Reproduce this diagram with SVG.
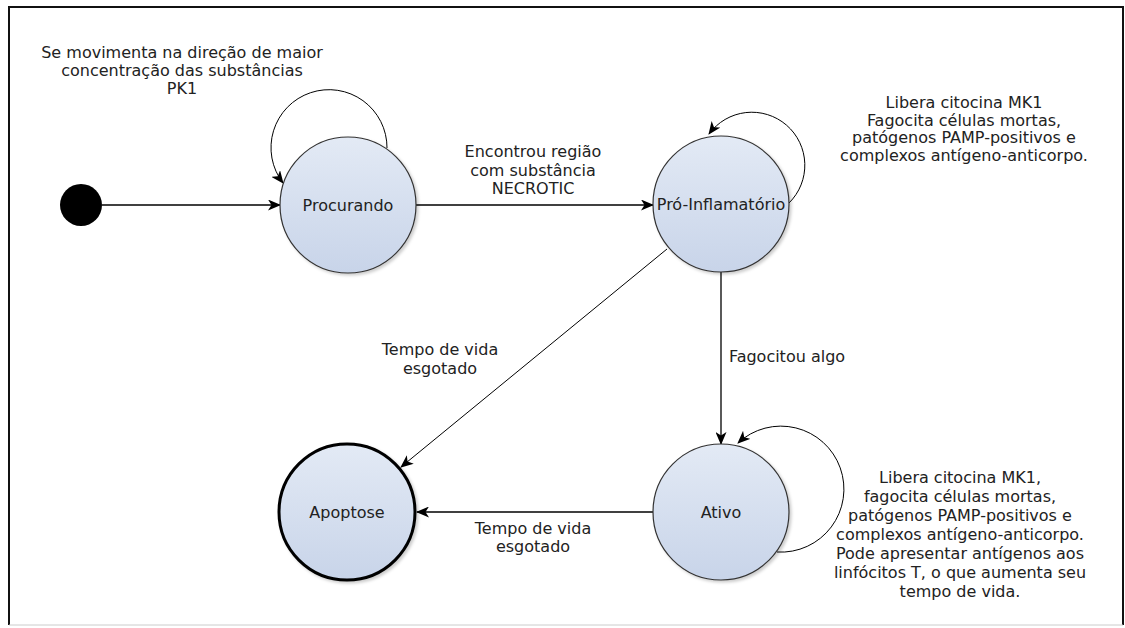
<svg xmlns="http://www.w3.org/2000/svg" width="1125" height="628" viewBox="0 0 1125 628">
  <style>
    .lbl { font-family: "DejaVu Sans", "Liberation Sans", sans-serif; font-size: 16px; fill: #222; text-anchor: middle; }
    .state { fill: url(#stateFill); stroke: #333; stroke-width: 1.2; filter: url(#shade); }
    .final { fill: url(#stateFill); stroke: #000; stroke-width: 3; filter: url(#shade); }
    .edge { fill: none; stroke: #000; stroke-width: 1.3; marker-end: url(#arrow); }
    .thin { stroke-width: 1; }
  </style>
  <defs>
    <linearGradient id="stateFill" x1="0" y1="0" x2="0" y2="1">
      <stop offset="0" stop-color="#e3eaf5"/>
      <stop offset="1" stop-color="#c8d4e9"/>
    </linearGradient>
    <filter id="shade" x="-20%" y="-20%" width="140%" height="140%">
      <feDropShadow dx="2" dy="2" stdDeviation="1.5" flood-color="#000" flood-opacity="0.2"/>
    </filter>
    <marker id="arrow" viewBox="0 0 13 11" refX="12" refY="5.5" markerWidth="13" markerHeight="11" markerUnits="userSpaceOnUse" orient="auto">
      <path d="M0,0 L13,5.5 L0,11 L3.5,5.5 Z" fill="#000"/>
    </marker>
  </defs>

  <!-- frame -->
  <rect x="0" y="0" width="1125" height="628" fill="#fff"/>
  <path d="M9 625 V7 H1123 V625" fill="none" stroke="#111" stroke-width="2"/>
  <line x1="9" y1="625" x2="1123" y2="625" stroke="#ccc" stroke-width="1"/>

  <!-- connectors and their labels -->
  <g id="connectors">
    <line class="edge" x1="102" y1="205" x2="280" y2="205"/>
    <line class="edge" x1="416" y1="205" x2="653" y2="205"/>
    <path class="edge thin" d="M387 148 A58 58 0 1 0 283 183"/>
    <path class="edge thin" d="M789 203 A53 53 0 1 0 709 134"/>
    <line class="edge" x1="721" y1="272" x2="721" y2="444"/>
    <line class="edge thin" x1="667" y1="249" x2="401" y2="467"/>
    <line class="edge" x1="653" y1="512" x2="417" y2="512"/>
    <path class="edge thin" d="M777 552 A63 63 0 1 0 738 443"/>

    <text class="lbl"><tspan x="182" y="58">Se movimenta na direção de maior</tspan><tspan x="182" y="76">concentração das substâncias</tspan><tspan x="182" y="94">PK1</tspan></text>
    <text class="lbl"><tspan x="533" y="157">Encontrou região</tspan><tspan x="533" y="175.5">com substância</tspan><tspan x="533" y="194">NECROTIC</tspan></text>
    <text class="lbl"><tspan x="964" y="108">Libera citocina MK1</tspan><tspan x="964" y="125.5">Fagocita células mortas,</tspan><tspan x="964" y="143">patógenos PAMP-positivos e</tspan><tspan x="964" y="160.5">complexos antígeno-anticorpo.</tspan></text>
    <text class="lbl"><tspan x="440" y="355">Tempo de vida</tspan><tspan x="440" y="374">esgotado</tspan></text>
    <text class="lbl" x="787" y="362">Fagocitou algo</text>
    <text class="lbl"><tspan x="533" y="534">Tempo de vida</tspan><tspan x="533" y="552">esgotado</tspan></text>
    <text class="lbl"><tspan x="960" y="483">Libera citocina MK1,</tspan><tspan x="960" y="502">fagocita células mortas,</tspan><tspan x="960" y="521">patógenos PAMP-positivos e</tspan><tspan x="960" y="540">complexos antígeno-anticorpo.</tspan><tspan x="960" y="559">Pode apresentar antígenos aos</tspan><tspan x="960" y="578">linfócitos T, o que aumenta seu</tspan><tspan x="960" y="597">tempo de vida.</tspan></text>
  </g>

  <!-- states -->
  <g id="start">
    <circle cx="81" cy="205" r="21" fill="#000"/>
  </g>
  <g id="procurando">
    <circle class="state" cx="348" cy="205" r="68"/>
    <text class="lbl" x="348" y="211">Procurando</text>
  </g>
  <g id="pro-inflamatorio">
    <circle class="state" cx="721" cy="204" r="68"/>
    <text class="lbl" x="721" y="210">Pró-Inflamatório</text>
  </g>
  <g id="apoptose">
    <circle class="final" cx="347" cy="512" r="68"/>
    <text class="lbl" x="347" y="518">Apoptose</text>
  </g>
  <g id="ativo">
    <circle class="state" cx="721" cy="512" r="68"/>
    <text class="lbl" x="721" y="518">Ativo</text>
  </g>
</svg>
